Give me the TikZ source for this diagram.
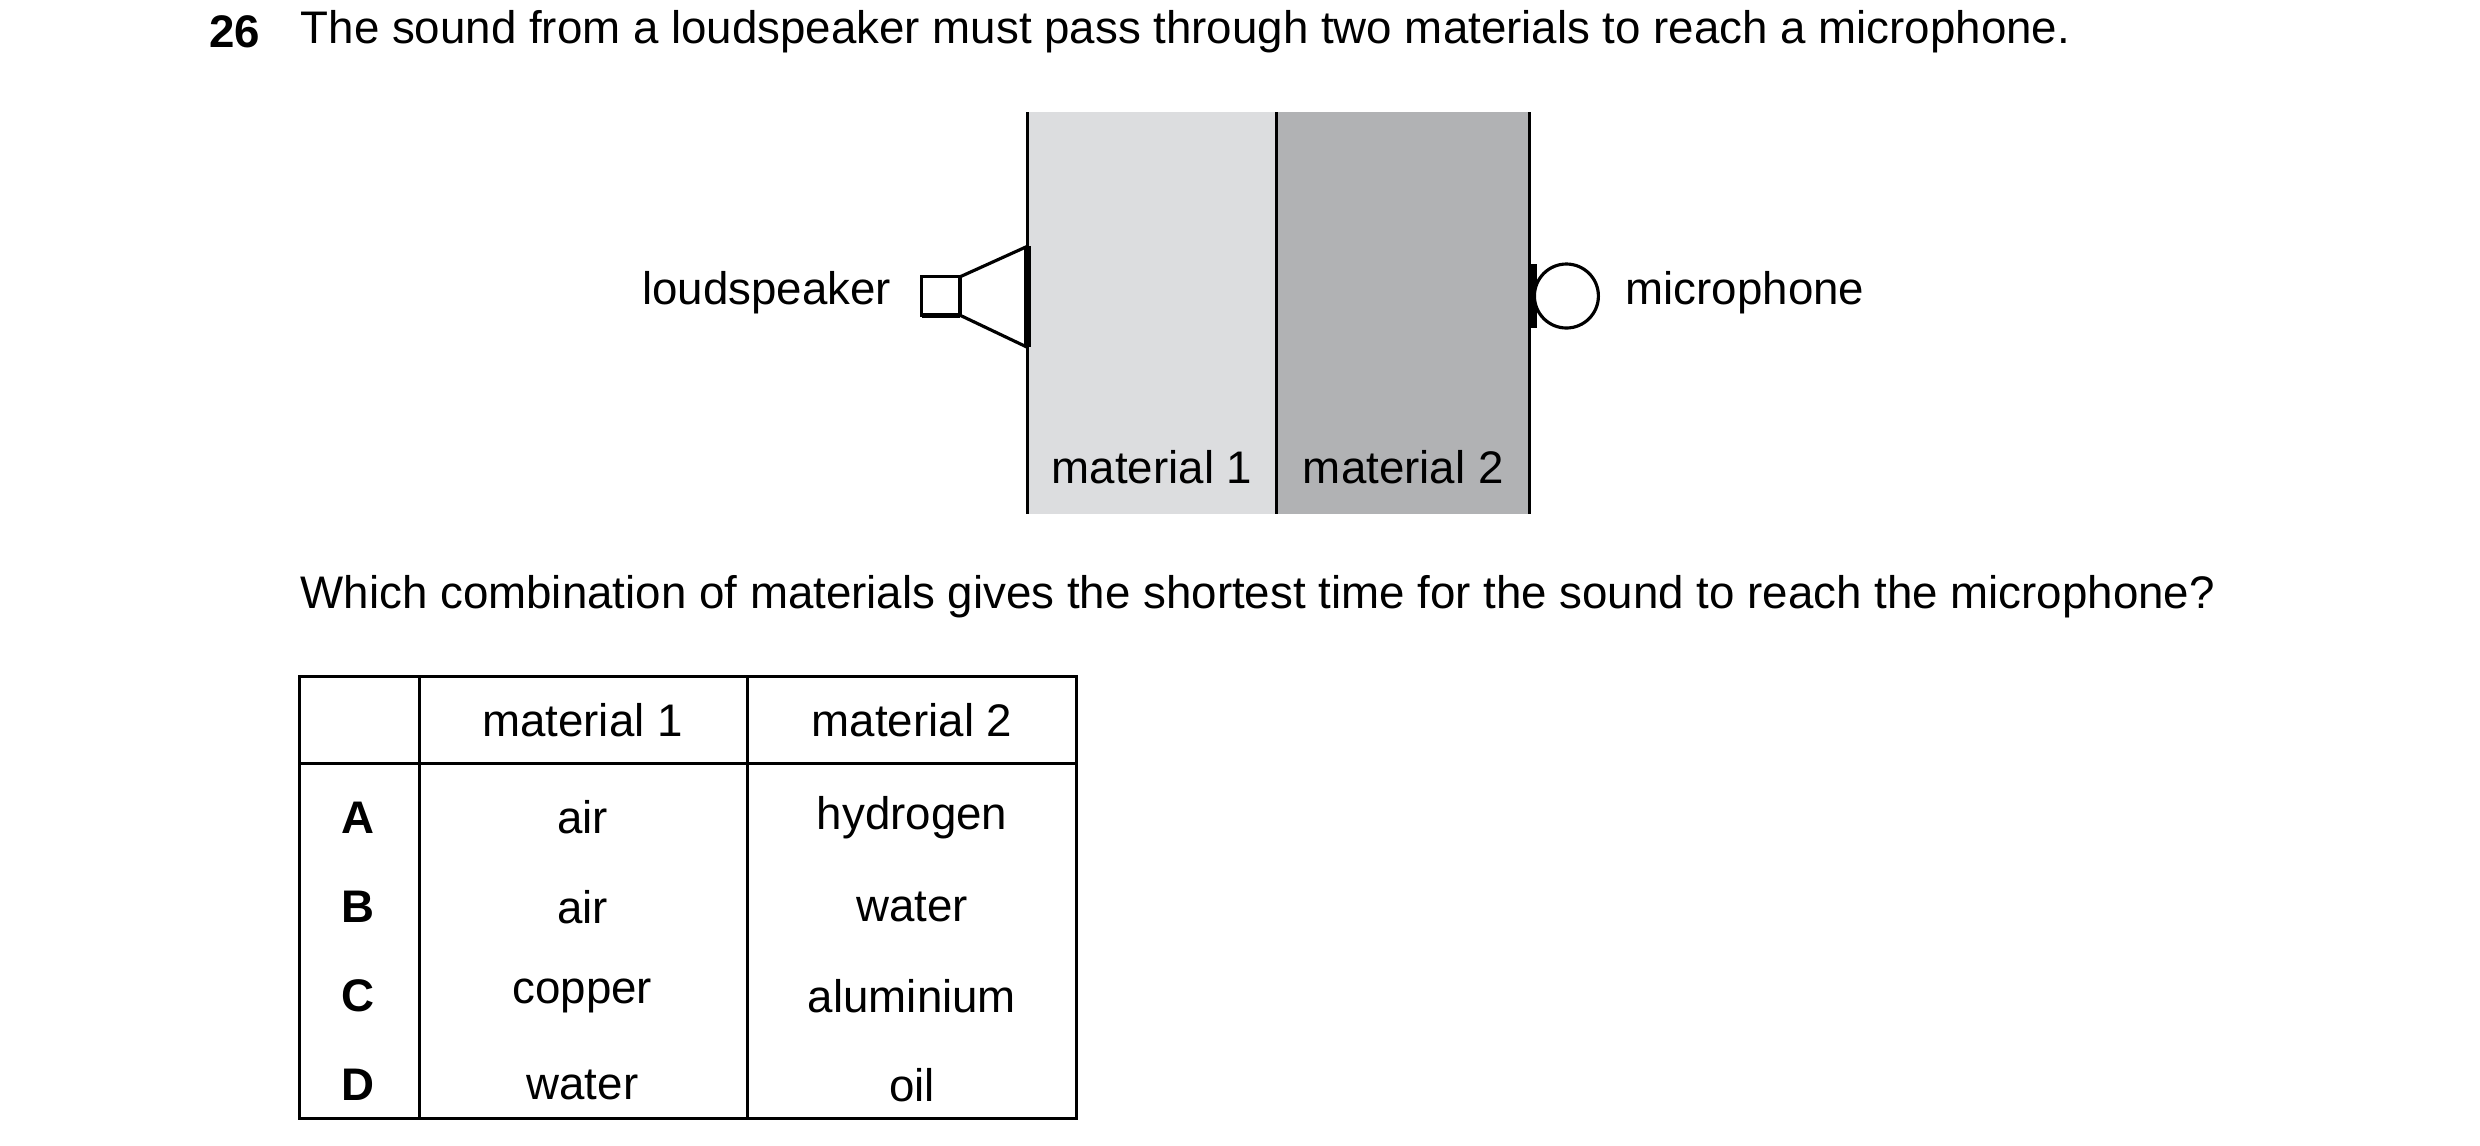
\documentclass[tikz,border=0pt]{standalone}
\usepackage{fontspec}
\setmainfont{Liberation Sans}
\usetikzlibrary{positioning,calc}
\definecolor{matone}{RGB}{220,221,223}
\definecolor{mattwo}{RGB}{177,178,180}
\begin{document}
\begin{tikzpicture}[x=0.016cm,y=-0.016cm,line width=0.9pt]
\tikzstyle{every node}=[font=\fontsize{13}{15}\selectfont,inner sep=0pt]
\tikzstyle{cell}=[anchor=center]
\useasboundingbox (0,0) rectangle (1550,716);
% question
\node[anchor=west,font=\fontsize{13}{15}\selectfont\bfseries] (num) at (130,20) {26};
\node[anchor=west] (stem) at (187,20) {The sound from a loudspeaker must pass through two materials to reach a microphone.};
% the two materials
\fill[matone] (642,70) rectangle (798,321);
\fill[mattwo] (798,70) rectangle (956,321);
\draw (642,70) -- (642,321);
\draw (798,70) -- (798,321);
\draw (956,70) -- (956,321);
\node (mone) at (720,292) {material 1};
\node (mtwo) at (877,292) {material 2};
% loudspeaker
\draw[fill=white] (576,173) rectangle (600,197);
\draw[line width=1.4pt] (576,197) -- (600,197);
\draw[line join=miter] (600,173) -- (642,154) (600,197) -- (642,217);
\draw[line width=2pt] (642,154) -- (642,217);
\node[anchor=east] (spk) at (558,183) {loudspeaker};
% microphone
\draw[line width=2.5pt] (958,165) -- (958,205);
\draw[fill=white] (979,185) circle (20);
\node[anchor=west] (mic) at (1015,183) {microphone};
\node[anchor=west] (ask) at (187,373) {Which combination of materials gives the shortest time for the sound to reach the microphone?};
% table
\draw (187,423) rectangle (673,699);
\draw (187,477) -- (673,477);
\draw (262,423) -- (262,699);
\draw (467,423) -- (467,699);
\node[cell] (h1) at (364,450) {material 1};
\node[cell] (h2) at (570,450) {material 2};
\foreach \l/\a/\b [count=\i] in {A/air/hydrogen,B/air/water,C/copper/aluminium,D/water/oil}{
  \pgfmathsetmacro{\yy}{511+(\i-1)*55.7}
  \node[cell,font=\fontsize{13}{15}\selectfont\bfseries] (k\i) at (224,\yy) {\l};
  \node[cell] (a\i) at (364,\yy) {\a};
  \node[cell] (b\i) at (570,\yy) {\b};
}
\end{tikzpicture}
\end{document}
